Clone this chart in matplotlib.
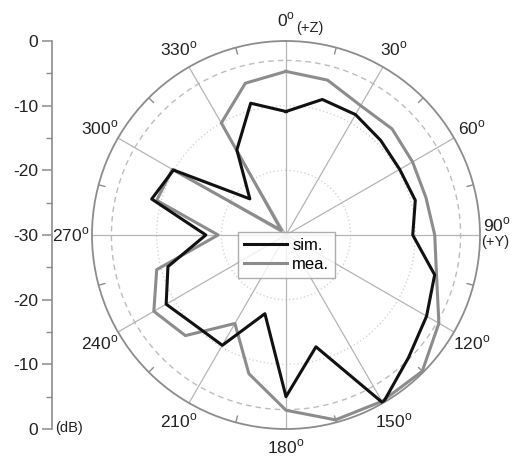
import numpy as np
import matplotlib
matplotlib.use("Agg")
import matplotlib.pyplot as plt

plt.rcParams['font.family'] = ['Liberation Sans', 'DejaVu Sans']
plt.rcParams['mathtext.fontset'] = 'custom'
plt.rcParams['mathtext.rm'] = 'Liberation Sans'

# Radiation pattern samples, every 15 degrees (clockwise from +Z)
angles_deg = [0, 15, 30, 45, 60, 75, 90, 105, 120, 135, 150, 165,
              180, 195, 210, 225, 240, 255, 270, 285, 300, 315, 330, 345]
sim_db = [-10.9, -8.3, -8.5, -9.3, -9.7, -9.3, -10.4, -6.2, -4.9, -3.2, 0.0, -12.1,
          -5.0, -17.4, -10.3, -10.2, -8.6, -11.1, -17.6, -8.5, -9.9, -22.1, -14.8, -8.9]
mea_db = [-4.7, -5.2, -6.9, -6.8, -7.4, -7.6, -7.0, -5.9, -2.7, -0.2, -0.3, -0.4,
          -2.9, -7.8, -14.2, -8.0, -6.4, -9.3, -19.5, -9.3, -9.7, -29.0, -10.0, -5.7]

angle_labels = [0, 30, 60, 90, 120, 150, 180, 210, 240, 270, 300, 330]
left_tick_labels = ['0', '-10', '-20', '-30', '-20', '-10', '0']
r_min, r_max = -30, 0

fig = plt.figure(figsize=(5.12, 4.57), dpi=100)

# polar axes: centre at (286, 235) px, radius 194 px
W, H = 512, 457
cx, cy, R = 286, 235, 194
ax = fig.add_axes([(cx - R) / W, (H - cy - R) / H, 2 * R / W, 2 * R / H],
                  projection='polar')
ax.set_theta_zero_location('N')
ax.set_theta_direction(-1)
ax.set_ylim(r_min, r_max)
ax.set_xticks([])
ax.set_yticks([])
ax.grid(False)
ax.spines['polar'].set_color('#8c8c8c')
ax.spines['polar'].set_linewidth(1.3)
ax.patch.set_alpha(0)

full = np.linspace(0, 2 * np.pi, 400)
# reference circles
for lev in (-10, -20):
    ax.plot(full, np.full_like(full, lev), ls=(0, (1, 2)), color='#cfcfcf', lw=0.9, zorder=1)
ax.plot(full, np.full_like(full, -3), ls=(0, (4, 3)), color='#bdbdbd', lw=1.0, zorder=1)

# spokes every 30 degrees
for a in angle_labels:
    t = np.deg2rad(a)
    ax.plot([t, t], [r_min, r_max], color='#b5b5b5', lw=0.9, zorder=1)
# minor ticks on the rim
for a in range(15, 360, 30):
    t = np.deg2rad(a)
    ax.plot([t, t], [-1.0, r_max], color='#8c8c8c', lw=1.0, zorder=1)

th = np.deg2rad(angles_deg + [angles_deg[0]])
ax.plot(th, sim_db + [sim_db[0]], color='#111111', lw=2.2, label='sim.', zorder=4)
ax.plot(th, mea_db + [mea_db[0]], color='#8c8c8c', lw=2.2, label='mea.', zorder=3)

# angle labels
r_lab = r_min + (r_max - r_min) * 1.108
lab_kw = dict(textcoords='offset points', ha='center', va='center',
              color='#222222', annotation_clip=False)
for a in angle_labels:
    t = np.deg2rad(a)
    if a == 0:
        ax.annotate(r'0$^{\rm o}$', xy=(t, r_lab), xytext=(0, 0), fontsize=12.5, **lab_kw)
        ax.annotate('(+Z)', xy=(t, r_lab), xytext=(17, -6), fontsize=10.5, **lab_kw)
    elif a == 90:
        ax.annotate(r'90$^{\rm o}$', xy=(t, r_lab), xytext=(-3, 7), fontsize=12.5, **lab_kw)
        ax.annotate('(+Y)', xy=(t, r_lab), xytext=(-4, -5), fontsize=10.5, **lab_kw)
    elif a == 180:
        ax.annotate(r'180$^{\rm o}$', xy=(t, r_lab), xytext=(0, 2), fontsize=12.5, **lab_kw)
    else:
        ax.annotate(r'%d$^{\rm o}$' % a, xy=(t, r_lab), xytext=(0, 0), fontsize=12.5, **lab_kw)

leg = ax.legend(loc='upper left', bbox_to_anchor=(238 / W, 1 - 232 / H),
                bbox_transform=fig.transFigure, borderaxespad=0, frameon=True,
                fancybox=False, fontsize=12, handlelength=2.6, handletextpad=0.3,
                labelspacing=0.25, borderpad=0.35)
leg.get_frame().set_edgecolor('#9a9a9a')
leg.get_frame().set_linewidth(1.0)
leg.set_zorder(5)

# left dB scale, 0 at rim down to -30 at centre and back to 0
axl = fig.add_axes([52 / W, (H - cy - R) / H, 0.001, 2 * R / H])
axl.set_ylim(60, 0)
axl.set_xlim(0, 1)
for s in ('top', 'right', 'bottom'):
    axl.spines[s].set_visible(False)
axl.spines['left'].set_color('#8c8c8c')
axl.spines['left'].set_linewidth(1.2)
axl.set_xticks([])
axl.set_yticks(np.arange(0, 61, 10))
axl.set_yticklabels(left_tick_labels)
axl.set_yticks(np.arange(5, 60, 10), minor=True)
axl.tick_params(axis='y', which='major', length=7, width=1.1, color='#8c8c8c',
                labelsize=12.5, labelcolor='#222222', pad=3)
axl.tick_params(axis='y', which='minor', length=4, width=1.0, color='#8c8c8c')
axl.patch.set_alpha(0)
fig.text(55 / W, 1 - 428 / H, '(dB)', ha='left', va='center', fontsize=10.5, color='#222222')

fig.savefig('out.png', dpi=100)
